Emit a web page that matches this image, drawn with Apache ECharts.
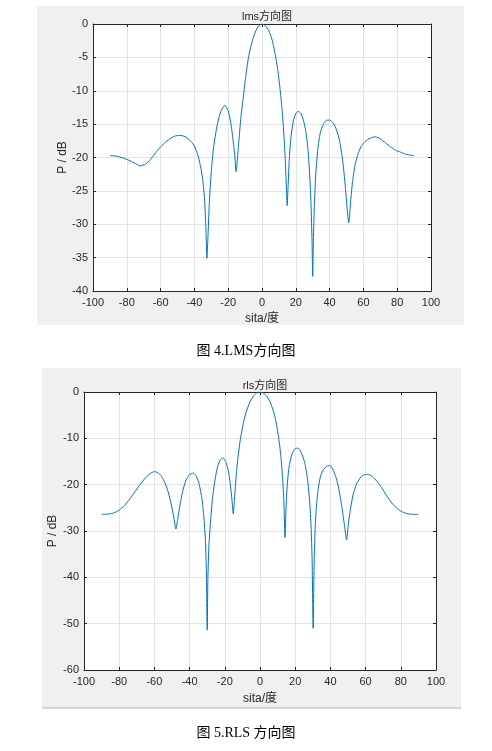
<!DOCTYPE html>
<html>
<head>
<meta charset="utf-8">
<script src="https://cdn.jsdelivr.net/npm/echarts@6/dist/echarts.min.js"></script>
<style>
  html, body { margin: 0; padding: 0; background: #ffffff; }
  #chart { width: 492px; height: 751px; }
</style>
</head>
<body>
<div id="chart"></div>
<script>
// lms pattern
var thetaLms = [-90, -86, -82, -78, -75, -72, -69, -66, -63, -60, -57, -54, -51, -48, -45, -42, -40, -38, -36, -35, -34, -33.2, -32.6, -32, -31.2, -30.4, -29.5, -28.5, -27, -25.5, -24, -22, -20, -18.5, -17.2, -16.2, -15.3, -14.5, -13.5, -12.5, -11, -9.5, -8, -6, -4, -2, 0, 2, 4, 6, 8, 9.5, 11, 12, 13, 13.8, 14.5, 14.9, 15.4, 16.2, 17.2, 18.5, 20, 21.5, 23, 24.5, 26, 27.2, 28.2, 29, 29.6, 30, 30.4, 31, 31.8, 33, 34.5, 36.5, 38.5, 40, 42, 44, 46, 48, 49.5, 50.5, 51.3, 51.8, 52.5, 53.5, 55, 57, 59, 61, 64, 67, 70, 73, 76, 79, 82, 85, 88, 90];
var pLms = [-19.7, -19.8, -20.1, -20.5, -20.9, -21.25, -21, -20.3, -19.3, -18.4, -17.7, -17.1, -16.75, -16.7, -16.95, -17.6, -18.3, -19.6, -21.8, -23.5, -26.2, -30.5, -35.1, -32, -27, -23.5, -20.6, -18.2, -15.8, -14, -12.9, -12.2, -13, -14.8, -17.2, -19.5, -22.1, -20, -17, -14, -10.8, -7.6, -5, -2.8, -1.2, -0.3, 0, -0.25, -1, -2.4, -4.8, -7.2, -10.5, -13.2, -16.8, -20.5, -25, -27.2, -24.5, -20, -16.8, -14.6, -13.4, -13.1, -13.4, -14.4, -16.2, -18.8, -22.5, -27, -32.5, -37.8, -32.5, -27, -22.5, -18.8, -16.3, -14.9, -14.4, -14.4, -14.8, -15.8, -17.6, -21, -25, -28, -29.8, -28.8, -26.5, -23.8, -21.2, -19.3, -18.2, -17.6, -17.1, -16.9, -17.2, -17.8, -18.4, -18.9, -19.2, -19.5, -19.65, -19.7];

// rls pattern
var thetaRls = [-90, -86, -83, -80, -77, -74, -71, -68, -65, -62, -60, -58, -56, -54, -52, -50.5, -49, -47.8, -46.8, -45.5, -44, -42, -40, -38, -36, -34.5, -33, -32, -31, -30.4, -30, -29.6, -29, -28, -27, -25.5, -24, -22.5, -21, -19.5, -18, -17, -16, -15.2, -14.4, -13.5, -12.5, -11, -9.5, -8, -6, -4, -2, 0, 2, 4, 6, 8, 9.5, 11, 12, 13, 13.6, 14.2, 14.8, 15.5, 16.5, 18, 19.5, 21, 22.5, 24, 25.5, 27, 28.2, 29, 29.6, 30.2, 30.8, 31.4, 32.2, 33.2, 34.5, 36, 38, 39, 40.5, 42, 43.5, 45, 46.5, 48, 49.2, 50.2, 51.5, 53, 55, 57.5, 60, 62, 64, 66.5, 69, 72, 75, 78, 81, 84, 87, 90];
var pRls = [-26.4, -26.35, -26.1, -25.5, -24.5, -23.1, -21.5, -19.9, -18.5, -17.5, -17.2, -17.4, -18.2, -19.6, -21.8, -24.2, -27, -29.6, -27.5, -24.5, -21.5, -19, -17.8, -17.5, -18.3, -20, -23, -26.5, -32, -40, -51.4, -40, -33, -27.5, -23, -18.8, -16, -14.6, -14.2, -15, -17, -19.5, -23, -26.3, -22.5, -18, -14, -9.8, -6.8, -4.5, -2.4, -1, -0.25, 0, -0.25, -1, -2.4, -4.6, -7.2, -11, -14.5, -19.5, -24, -31.4, -25, -20, -16.2, -13.6, -12.4, -12.1, -12.4, -13.6, -15.4, -18.8, -23.5, -29, -36, -51, -36, -29, -24, -20.5, -18, -16.8, -16, -15.85, -16.1, -17.2, -18.8, -21.3, -24.8, -28.8, -31.9, -28.5, -25, -22, -19.7, -18.3, -17.8, -17.85, -18.3, -19.3, -20.6, -22.4, -24, -25.2, -25.9, -26.3, -26.4, -26.4];

var xTicks = [-100, 100, 20];
var yTicksLms = [-40, 0, 5];
var yTicksRls = [-60, 0, 10];

var latinFont = '"Liberation Sans", Arial, "Noto Sans CJK SC", sans-serif';
var captionFont = '"Liberation Serif", "Times New Roman", "Noto Sans CJK SC", serif';
var lineColor = '#0072BD';
var textColor = '#262626';

function pairs(xs, ys) {
    return xs.map(function (x, i) { return [x, ys[i]]; });
}

// one MATLAB style axis (with mirrored ticks on top / right)
function xAxisFor(grid, pos, labels, gap) {
    return {
        type: 'value', gridIndex: grid, position: pos,
        min: xTicks[0], max: xTicks[1], interval: xTicks[2],
        name: labels ? 'sita/度' : '', nameLocation: 'middle', nameGap: gap,
        nameMoveOverlap: false,
        nameTextStyle: { color: textColor, fontFamily: latinFont, fontSize: 12 },
        axisLine: { show: true, onZero: false, lineStyle: { color: textColor, width: 1 } },
        axisTick: { show: true, inside: true, length: 3, lineStyle: { color: textColor } },
        axisLabel: { show: labels, color: textColor, fontFamily: latinFont, fontSize: 11, margin: 6 },
        splitLine: { show: labels, lineStyle: { color: '#e3e3e3', width: 1 } }
    };
}

function yAxisFor(grid, pos, ticks, labels, gap) {
    return {
        type: 'value', gridIndex: grid, position: pos,
        min: ticks[0], max: ticks[1], interval: ticks[2],
        name: labels ? 'P / dB' : '', nameLocation: 'middle', nameGap: gap,
        nameMoveOverlap: false,
        nameTextStyle: { color: textColor, fontFamily: latinFont, fontSize: 12 },
        axisLine: { show: true, onZero: false, lineStyle: { color: textColor, width: 1 } },
        axisTick: { show: true, inside: true, length: 3, lineStyle: { color: textColor } },
        axisLabel: { show: labels, color: textColor, fontFamily: latinFont, fontSize: 11, margin: 5 },
        splitLine: { show: labels, lineStyle: { color: '#e3e3e3', width: 1 } }
    };
}

var chart = echarts.init(document.getElementById('chart'), null, { renderer: 'canvas' });

var option = {
    animation: false,
    backgroundColor: '#ffffff',
    graphic: [
        // grey figure panels
        { type: 'rect', z: -10, shape: { x: 37, y: 6, width: 427, height: 319 }, style: { fill: '#f0f0f0' } },
        { type: 'rect', z: -10, shape: { x: 42, y: 368, width: 419, height: 340 }, style: { fill: '#f0f0f0' } },
        { type: 'line', z: -9, shape: { x1: 42, y1: 708, x2: 461, y2: 708 }, style: { stroke: '#a9b6c4', lineWidth: 1 } },
        // captions
        { type: 'text', left: 'center', top: 344, style: { text: '图 4.LMS方向图', fill: '#000', font: '14px ' + captionFont } },
        { type: 'text', left: 'center', top: 726, style: { text: '图 5.RLS 方向图', fill: '#000', font: '14px ' + captionFont } }
    ],
    title: [
        { text: 'lms方向图', left: 262, top: 6, textAlign: 'center',
          textStyle: { color: textColor, fontFamily: latinFont, fontSize: 11, fontWeight: 'normal' } },
        { text: 'rls方向图', left: 260, top: 375, textAlign: 'center',
          textStyle: { color: textColor, fontFamily: latinFont, fontSize: 11, fontWeight: 'normal' } }
    ],
    grid: [
        { left: 93, top: 24, width: 338, height: 267, show: true, backgroundColor: '#ffffff', borderWidth: 0 },
        { left: 84, top: 392, width: 352, height: 278, show: true, backgroundColor: '#ffffff', borderWidth: 0 }
    ],
    xAxis: [
        xAxisFor(0, 'bottom', true, 22),
        xAxisFor(1, 'bottom', true, 23),
        xAxisFor(0, 'top', false, 0),
        xAxisFor(1, 'top', false, 0)
    ],
    yAxis: [
        yAxisFor(0, 'left', yTicksLms, true, 24),
        yAxisFor(1, 'left', yTicksRls, true, 25),
        yAxisFor(0, 'right', yTicksLms, false, 0),
        yAxisFor(1, 'right', yTicksRls, false, 0)
    ],
    series: [
        { name: 'lms', type: 'line', xAxisIndex: 0, yAxisIndex: 0, data: pairs(thetaLms, pLms),
          showSymbol: false, smooth: 0.2, lineStyle: { color: lineColor, width: 1 } },
        { name: 'rls', type: 'line', xAxisIndex: 1, yAxisIndex: 1, data: pairs(thetaRls, pRls),
          showSymbol: false, smooth: 0.2, lineStyle: { color: lineColor, width: 1 } }
    ]
};

chart.setOption(option);
</script>
</body>
</html>
